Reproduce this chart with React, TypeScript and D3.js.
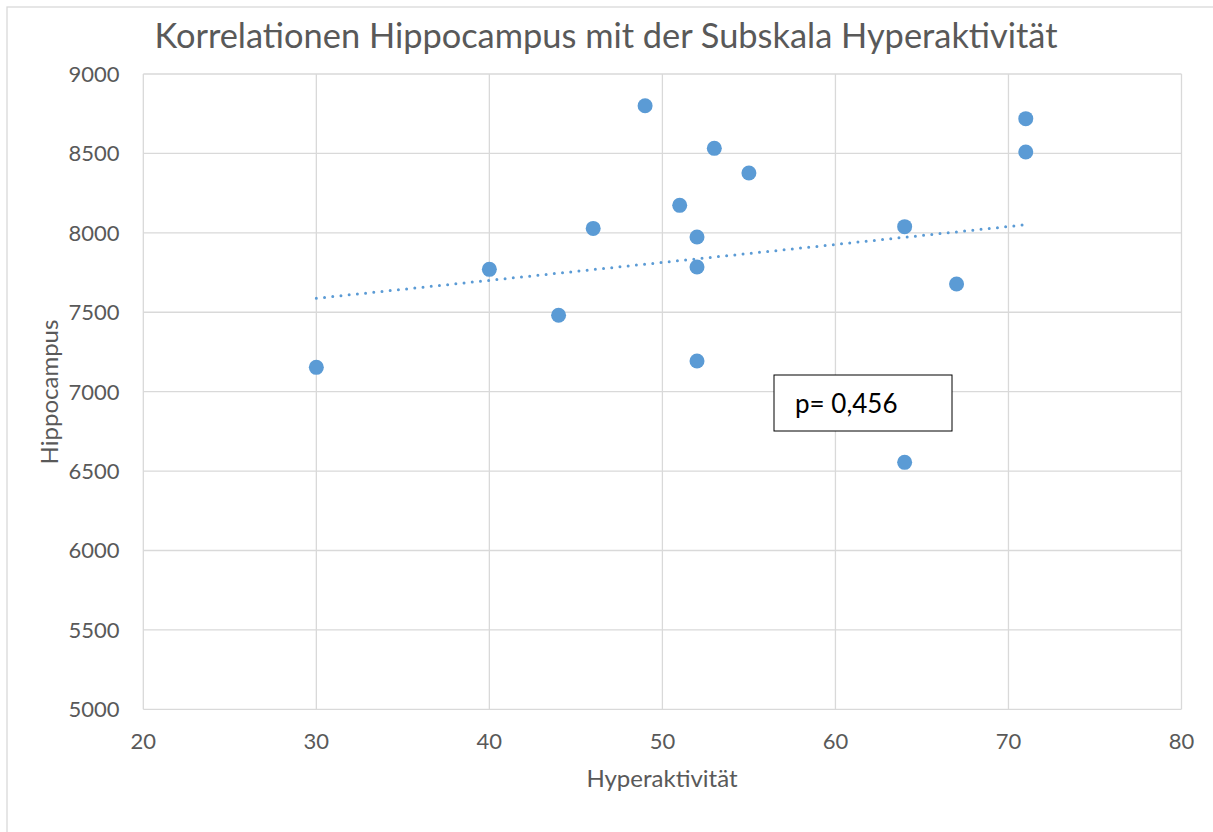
import React from "react";
import * as d3 from "d3";

const xValues = [30, 40, 44, 46, 49, 51, 52, 52, 52, 53, 55, 64, 64, 67, 71, 71];
const yValues = [7153, 7770, 7481, 8028, 8800, 8173, 7974, 7785, 7193, 8532, 8377, 8039, 6555, 7678, 8719, 8509];
const trendX = [30, 71];
const trendY = [7588, 8051];
const xTicks = [20, 30, 40, 50, 60, 70, 80];
const yTicks = [5000, 5500, 6000, 6500, 7000, 7500, 8000, 8500, 9000];
const title = "Korrelationen Hippocampus mit der Subskala Hyperaktivität";
const xTitle = "Hyperaktivität";
const yTitle = "Hippocampus";
const annotation = "p= 0,456";

const W = 1213;
const H = 832;
const FONT = "Lato, 'Open Sans', sans-serif";
const TEXT = "#595959";
const GRID = "#D9D9D9";
const BLUE = "#5B9BD5";

export default function App() {
  const x = d3.scaleLinear().domain([20, 80]).range([143.3, 1181.5]);
  const y = d3.scaleLinear().domain([5000, 9000]).range([709.3, 74]);
  const line = d3
    .line<number>()
    .x((_, i) => x(trendX[i]))
    .y((d) => y(d));

  return (
    <svg
      width={W}
      height={H}
      style={{ position: "absolute", left: 0, top: 0, background: "#fff" }}
      fontFamily={FONT}
    >
      <rect x={0} y={0} width={W} height={H} fill="#fff" />
      <rect x={7} y={7} width={W + 50} height={H + 50} fill="none" stroke={GRID} strokeWidth={1.3} />
      <text x={606} y={48} textAnchor="middle" fontSize={34.4} fill={TEXT}>
        {title}
      </text>
      {xTicks.map((t) => (
        <line key={"gx" + t} x1={x(t)} x2={x(t)} y1={y(5000)} y2={y(9000)} stroke={GRID} strokeWidth={1.3} />
      ))}
      {yTicks.map((t) => (
        <line key={"gy" + t} x1={x(20)} x2={x(80)} y1={y(t)} y2={y(t)} stroke={GRID} strokeWidth={1.3} />
      ))}
      {xTicks.map((t) => (
        <text key={"tx" + t} x={x(t)} y={749} textAnchor="middle" fontSize={22} fill={TEXT}>
          {t}
        </text>
      ))}
      {yTicks.map((t) => (
        <text key={"ty" + t} x={119.5} y={y(t) + 8} textAnchor="end" fontSize={22} fill={TEXT}>
          {t}
        </text>
      ))}
      <text x={662} y={787} textAnchor="middle" fontSize={24} fill={TEXT}>
        {xTitle}
      </text>
      <text
        transform={`translate(58, ${392}) rotate(-90)`}
        textAnchor="middle"
        fontSize={24}
        fill={TEXT}
      >
        {yTitle}
      </text>
      <path
        d={line(trendY) || ""}
        fill="none"
        stroke={BLUE}
        strokeWidth={3}
        strokeDasharray="0 8.25"
        strokeLinecap="round"
      />
      {xValues.map((v, i) => (
        <circle key={"p" + i} cx={x(v)} cy={y(yValues[i])} r={7.5} fill={BLUE} />
      ))}
      <rect x={774} y={375} width={178} height={56} fill="#fff" stroke="#000" strokeWidth={1} />
      <text x={795} y={413} fontSize={26} fill="#000">
        {annotation}
      </text>
    </svg>
  );
}
